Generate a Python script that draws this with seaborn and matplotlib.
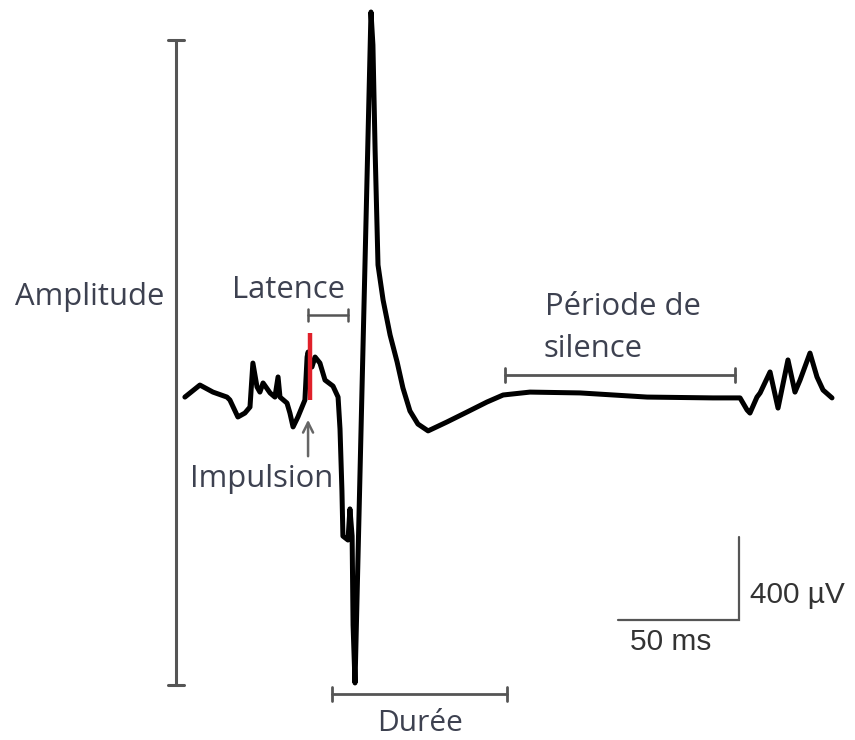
import numpy as np
import pandas as pd
import matplotlib
matplotlib.use("Agg")
import matplotlib.pyplot as plt
import matplotlib.transforms as mtransforms
import seaborn as sns

# ---- data: motor evoked potential trace (time in ms, amplitude in µV) ----
time_ms = [-51.7, -45.5, -40.1, -34.3, -33.1, -29.8, -26.9, -24.8, -23.6, -21.9,
           -20.7, -19.4, -16.5, -14.5, -13.2, -12.4, -9.5, -8.3, -7.0, -5.0,
           -2.1, -1.2, -0.8, 0.8, 2.1, 4.1, 6.2, 9.5, 11.6, 12.4,
           13.2, 13.6, 15.7, 16.5, 17.4, 17.8, 18.6, 25.2, 26.0, 26.9,
           28.1, 30.2, 33.1, 36.0, 38.4, 41.3, 44.6, 48.8, 56.6, 64.9,
           73.1, 79.8, 90.9, 111.6, 139.3, 166.5, 177.7, 180.6, 181.8, 184.7,
           186.0, 190.1, 193.4, 197.5, 200.4, 202.5, 206.6, 209.5, 212.0, 215.7]
amplitude_uv = [-10, 48, 14, -10, -24, -106, -87, -58, 154, 39,
                14, 58, 10, -10, 87, -10, -39, -87, -154, -106,
                -24, 183, 207, 135, 183, 154, 72, 43, -10, -164,
                -463, -680, -699, -549, -680, -1109, -1388, 1846, 1687, 1181,
                627, 458, 289, 159, 34, -77, -140, -173, -130, -82,
                -34, 0, 14, 10, -10, -14, -14, -72, -87, -10,
                10, 111, -63, 169, 14, 72, 202, 87, 24, -14]

# annotated intervals
impulse_ms = 0.0
latency_ms = [-0.8, 15.7]
duration_ms = [9.1, 81.4]
silence_ms = [80.6, 175.6]
amplitude_range_uv = [-1398, 1711]
scale_time_ms = 50
scale_amp_uv = 400
scale_origin = [177.3, -1085]  # ms, µV (corner of scale bar)

labels = {
    "amp": "Amplitude",
    "lat": "Latence",
    "imp": "Impulsion",
    "sil1": "Période de",
    "sil2": "silence",
    "dur": "Durée",
    "sv": "400 µV",
    "st": "50 ms",
}

# ---- figure ----
W, H = 855, 740
sns.set_theme(style="white")
plt.rcParams["font.family"] = ["Open Sans", "DejaVu Sans"]

fig = plt.figure(figsize=(W / 100, H / 100), dpi=100)
ax = fig.add_axes([0, 0, 1, 1])
# axis limits chosen so that 50 ms ≈ 121 px and 400 µV ≈ 83 px
PX_MS = 2.42
UV_PX = 4.82
X0, Y0 = 310, 395
ax.set_xlim((0 - X0) / PX_MS, (W - X0) / PX_MS)
ax.set_ylim((Y0 - H) * UV_PX, (Y0 - 0) * UV_PX)
ax.axis("off")

# pixel transform (top-left origin) for text placement
pix = mtransforms.Affine2D().scale(1 / W, -1 / H).translate(0, 1) + fig.transFigure

df = pd.DataFrame({"t": time_ms, "v": amplitude_uv})
sns.lineplot(data=df, x="t", y="v", ax=ax, color="black", lw=3.6,
             sort=False, estimator=None, solid_joinstyle="round",
             solid_capstyle="round", zorder=3)

grey = "#555555"
txt = "#3d4150"
cap_t = 8 / PX_MS

# Amplitude bar (vertical)
amp_t = (176 - X0) / PX_MS
ax.plot([amp_t, amp_t], amplitude_range_uv, color=grey, lw=2.2)
for v in amplitude_range_uv:
    ax.plot([amp_t - cap_t, amp_t + cap_t], [v, v], color=grey, lw=2.2)

def hbracket(t0, t1, v, lw=1.8, caph=6):
    ax.plot([t0, t1], [v, v], color=grey, lw=lw)
    for t in (t0, t1):
        ax.plot([t, t], [v - caph * UV_PX, v + caph * UV_PX], color=grey, lw=lw)

hbracket(latency_ms[0], latency_ms[1], (Y0 - 315) * UV_PX)
hbracket(duration_ms[0], duration_ms[1], (Y0 - 694) * UV_PX, lw=2.0, caph=7)
hbracket(silence_ms[0], silence_ms[1], (Y0 - 375) * UV_PX, lw=2.0, caph=7)

# impulse marker (red)
ax.plot([impulse_ms, impulse_ms], [(Y0 - 400) * UV_PX, (Y0 - 333) * UV_PX],
        color="#e0202a", lw=3.2, solid_capstyle="butt", zorder=4)

# impulse arrow
ax.annotate("", xy=(-0.8, (Y0 - 417) * UV_PX), xytext=(-0.8, (Y0 - 459) * UV_PX),
            arrowprops=dict(arrowstyle="->", color="#666666", lw=1.8,
                            mutation_scale=18))

# scale bar
sx, sy = scale_origin
ax.plot([sx - scale_time_ms, sx, sx], [sy, sy, sy + scale_amp_uv],
        color="#555555", lw=1.6, solid_joinstyle="miter")

fs = 22.3
ax.text(15, 305, labels["amp"], transform=pix, fontsize=fs, color=txt, va="baseline")
ax.text(232, 298, labels["lat"], transform=pix, fontsize=fs, color=txt, va="baseline")
ax.text(190, 487, labels["imp"], transform=pix, fontsize=fs, color=txt, va="baseline")
ax.text(545, 315, labels["sil1"], transform=pix, fontsize=fs, color=txt, va="baseline")
ax.text(543, 357, labels["sil2"], transform=pix, fontsize=fs, color=txt, va="baseline")
ax.text(420, 731, labels["dur"], transform=pix, fontsize=21.5, color=txt,
        va="baseline", ha="center")
ax.text(750, 603, labels["sv"], transform=pix, fontsize=21.5, color="#333333",
        va="baseline", family=["Liberation Sans", "DejaVu Sans"])
ax.text(630, 650, labels["st"], transform=pix, fontsize=21.5, color="#333333",
        va="baseline", family=["Liberation Sans", "DejaVu Sans"])

fig.savefig("out.png", dpi=100, facecolor="white")
